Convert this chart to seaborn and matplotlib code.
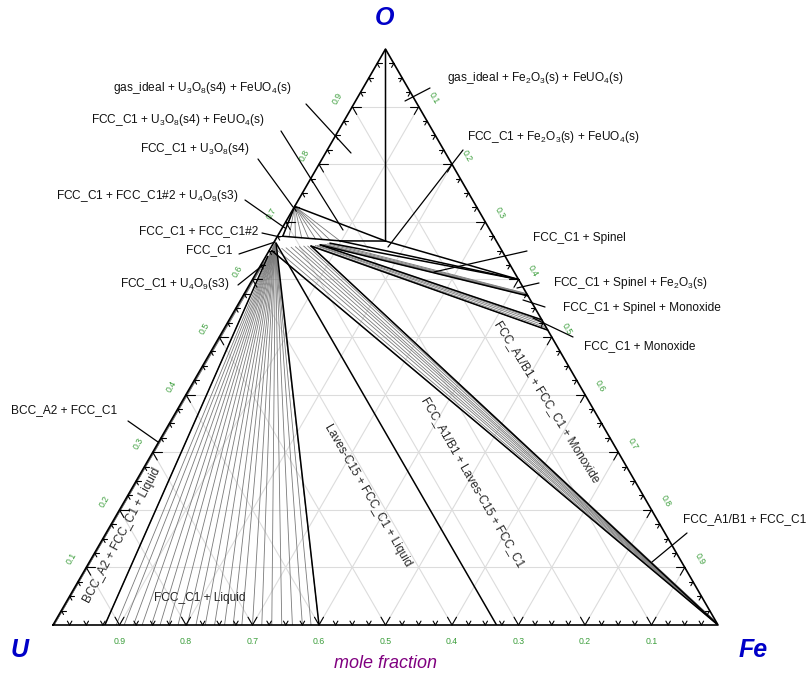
import numpy as np
import pandas as pd
import matplotlib
matplotlib.use("Agg")
import matplotlib.pyplot as plt
import seaborn as sns

# ---------------------------------------------------------------------------
# Phase data, compositions as (x_Fe, x_O) mole fractions
# ---------------------------------------------------------------------------
O_corner = (0.0, 1.0)
Fe_corner = (1.0, 0.0)
U_corner = (0.0, 0.0)
U3O8 = (0.0, 0.727)
FeUO4 = (0.1667, 0.6667)
Fe2O3 = (0.400, 0.600)
UFe2 = (0.667, 0.0)

# FCC_C1 (fluorite) single-phase sliver near UO2
fcc_apex = (0.004, 0.663)
fcc_hyper = (0.008, 0.675)
fcc_fe_rich = (0.098, 0.667)
fcc_fe2o3 = (0.085, 0.663)
fcc_spinel = (0.072, 0.660)
fcc_monox = (0.059, 0.658)

# FCC_C1 + Liquid tie-lines: liquid U fraction on the U-Fe side and FCC_C1 O fraction
liq_xU = [0.922, 0.905, 0.893, 0.879, 0.866, 0.852, 0.839, 0.826, 0.812, 0.798,
          0.785, 0.771, 0.757, 0.742, 0.729, 0.716, 0.700, 0.686, 0.671, 0.656,
          0.640, 0.625, 0.612, 0.600]
liq_fcc_xO = [0.640, 0.650, 0.655, 0.657, 0.658, 0.658, 0.659, 0.659, 0.660, 0.660,
              0.660, 0.661, 0.661, 0.661, 0.662, 0.662, 0.662, 0.662, 0.663, 0.663,
              0.663, 0.663, 0.663, 0.663]

# BCC_A2 + FCC_C1 tie-lines (FCC_C1 end, O fraction; small Fe offsets)
bcc_fcc_xO = [0.590, 0.605, 0.618, 0.630, 0.640]
bcc_fcc_xFe = [0.001, 0.001, 0.002, 0.002, 0.003]

# FCC_C1 + U3O8 tie-lines: FCC_C1 end compositions
u3o8_fcc_xFe = [0.008, 0.018, 0.028, 0.038, 0.049, 0.060, 0.071, 0.083, 0.098]
u3o8_fcc_xO = [0.675, 0.674, 0.673, 0.672, 0.671, 0.670, 0.669, 0.668, 0.667]

# FCC_C1 + Spinel tie-lines: FCC_C1 x_Fe and spinel O fraction
spinel_fcc_xFe = [0.072, 0.075, 0.078, 0.082, 0.085]
spinel_fcc_xO = [0.660, 0.661, 0.661, 0.662, 0.663]
spinel_xO = [0.5714, 0.5725, 0.5735, 0.5745, 0.5755]

# FCC_C1 + Monoxide tie-lines
monox_fcc_xFe = [0.059, 0.062, 0.065, 0.068, 0.070, 0.072]
monox_fcc_xO = [0.658, 0.658, 0.659, 0.659, 0.660, 0.660]
monox_xO = [0.512, 0.516, 0.520, 0.524, 0.527, 0.530]

# FCC_A1/B1 + FCC_C1 tie-lines
fcca1_fcc_xFe = [0.004, 0.010, 0.017, 0.023, 0.030, 0.036, 0.042, 0.048, 0.054, 0.059]
fcca1_fcc_xO = [0.650, 0.652, 0.654, 0.655, 0.656, 0.657, 0.657, 0.658, 0.658, 0.658]
fcca1_xO = [0.0, 0.0005, 0.001, 0.0015, 0.002, 0.0025, 0.003, 0.0035, 0.004, 0.0045]

axis_ticks = [0.1, 0.2, 0.3, 0.4, 0.5, 0.6, 0.7, 0.8, 0.9]

SQ3 = np.sqrt(3) / 2


def cart(xfe, xo):
    return xfe + xo / 2.0, xo * SQ3


# ---------------------------------------------------------------------------
# Build segment table
# ---------------------------------------------------------------------------
rows = []


def seg(p, q, kind):
    sid = len(rows) // 2
    for c in (p, q):
        x, y = cart(*c)
        rows.append({"x": x, "y": y, "seg": sid, "kind": kind})


# tie-lines (gray)
for xu, xo in zip(liq_xU, liq_fcc_xO):
    seg((0.003, xo), (1 - xu, 0.0), "tie")
for xo, xf in zip(bcc_fcc_xO, bcc_fcc_xFe):
    seg((xf, xo), (0.0015, 0.0), "tie")
for xf, xo in zip(u3o8_fcc_xFe, u3o8_fcc_xO):
    seg(U3O8, (xf, xo), "tie")
for xf, xo, so in zip(spinel_fcc_xFe, spinel_fcc_xO, spinel_xO):
    seg((xf, xo), (1 - so, so), "tie")
for xf, xo, mo in zip(monox_fcc_xFe, monox_fcc_xO, monox_xO):
    seg((xf, xo), (1 - mo, mo), "tie")
for xf, xo, fo in zip(fcca1_fcc_xFe, fcca1_fcc_xO, fcca1_xO):
    seg((xf, xo), (1 - fo, fo), "tie")

# phase boundaries (black)
seg(O_corner, FeUO4, "bnd")
seg(U3O8, FeUO4, "bnd")
seg(FeUO4, Fe2O3, "bnd")
seg(fcc_hyper, fcc_fe_rich, "bnd")
seg(fcc_fe_rich, FeUO4, "bnd")
seg(U3O8, fcc_hyper, "bnd")
seg(fcc_fe2o3, Fe2O3, "bnd")
seg(fcc_fe_rich, Fe2O3, "bnd")
seg((spinel_fcc_xFe[0], spinel_fcc_xO[0]), (1 - spinel_xO[0], spinel_xO[0]), "bnd")
seg((monox_fcc_xFe[-1], monox_fcc_xO[-1]), (1 - monox_xO[-1], monox_xO[-1]), "bnd")
seg((monox_fcc_xFe[0], monox_fcc_xO[0]), (1 - monox_xO[0], monox_xO[0]), "bnd")
seg((fcca1_fcc_xFe[-1], fcca1_fcc_xO[-1]), Fe_corner, "bnd")
seg((fcca1_fcc_xFe[0], fcca1_fcc_xO[0]), Fe_corner, "bnd")
seg(fcc_apex, UFe2, "bnd")
seg(fcc_apex, (1 - liq_xU[-1], 0.0), "bnd")
seg((0.003, liq_fcc_xO[0]), (1 - liq_xU[0], 0.0), "bnd")

df = pd.DataFrame(rows)

# ---------------------------------------------------------------------------
# Figure
# ---------------------------------------------------------------------------
sns.set_theme(style="white")
plt.rcParams["font.family"] = ["Liberation Sans", "DejaVu Sans"]
plt.rcParams["mathtext.fontset"] = "custom"
plt.rcParams["mathtext.rm"] = "Liberation Sans"
plt.rcParams["mathtext.it"] = "Liberation Sans:italic"
plt.rcParams["mathtext.default"] = "regular"

W, H = 809, 681
fig = plt.figure(figsize=(W / 100, H / 100), dpi=100)
L0, B0, SIDE = 53, 625, 665
ax = fig.add_axes([L0 / W, (H - B0) / H, SIDE / W, SIDE * SQ3 / H])
ax.set_xlim(0, 1)
ax.set_ylim(0, SQ3)
ax.axis("off")


def px(x, y):
    """image pixel -> axes data coordinates"""
    return (x - L0) / SIDE, (B0 - y) / SIDE


# grid
grid_kw = dict(color="#dcdcdc", lw=0.8, zorder=0)
for v in axis_ticks:
    for a, b in (((0, v), (1 - v, v)), ((v, 0), (v, 1 - v)), ((1 - v, 0), (0, 1 - v))):
        (x1, y1), (x2, y2) = cart(*a), cart(*b)
        ax.plot([x1, x2], [y1, y2], **grid_kw)

# tie-lines and boundaries
sns.lineplot(data=df[df.kind == "tie"], x="x", y="y", units="seg", estimator=None,
             sort=False, color="#7a7a7a", lw=0.6, ax=ax, legend=False, zorder=2)
sns.lineplot(data=df[df.kind == "bnd"], x="x", y="y", units="seg", estimator=None,
             sort=False, color="black", lw=1.1, ax=ax, legend=False, zorder=3)

# triangle frame
tri = np.array([cart(*U_corner), cart(*Fe_corner), cart(*O_corner), cart(*U_corner)])
ax.plot(tri[:, 0], tri[:, 1], color="black", lw=1.2, zorder=4, clip_on=False)

# ticks
d60 = np.array([0.5, SQ3])
d120 = np.array([-0.5, SQ3])
d0 = np.array([1.0, 0.0])
d300 = np.array([0.5, -SQ3])
d180 = np.array([-1.0, 0.0])
d240 = np.array([-0.5, -SQ3])
for k in range(1, 40):
    t = k * 0.025
    ln = (9.0 if k % 4 == 0 else 4.5) / SIDE
    for p, arms in ((cart(t, 0), (d60, d120)),
                    (cart(0, t), (d0, d300)),
                    (cart(1 - t, t), (d180, d240))):
        p = np.array(p)
        for d in arms:
            q = p + d * ln
            ax.plot([p[0], q[0]], [p[1], q[1]], color="black", lw=0.8, zorder=4,
                    clip_on=False)

# tick labels
green = "#3c9e3c"
off = 17 / SIDE
for v in axis_ticks:
    x, y = cart(1 - v, 0)
    ax.text(x, y - off, f"{v:.1f}", color=green, fontsize=6.3, ha="center", va="center")
    x, y = cart(0, v)
    ax.text(x - off * SQ3, y + off * 0.5, f"{v:.1f}", color=green, fontsize=6.3,
            ha="center", va="center", rotation=60)
    x, y = cart(v, 1 - v)
    ax.text(x + off * SQ3, y + off * 0.5, f"{v:.1f}", color=green, fontsize=6.3,
            ha="center", va="center", rotation=-60)

# corner labels
corner_kw = dict(color="#0000c8", fontsize=18, fontweight="bold", fontstyle="italic",
                 ha="center", va="center")
ax.text(*px(385, 18), "O", **corner_kw)
ax.text(*px(20, 650), "U", **corner_kw)
ax.text(*px(753, 650), "Fe", **corner_kw)
ax.text(*px(385, 664), "mole fraction", color="#800080", fontsize=13,
        fontstyle="italic", ha="center", va="center")

# region labels with leaders
fs = 8.6
left_labels = [
    ("gas_ideal + U$_3$O$_8$(s4) + FeUO$_4$(s)", (291, 88), (306, 104), (351, 153)),
    ("FCC_C1 + U$_3$O$_8$(s4) + FeUO$_4$(s)", (265, 120), (281, 131), (343, 230)),
    ("FCC_C1 + U$_3$O$_8$(s4)", (249, 149), (258, 159), (293, 207)),
    ("FCC_C1 + FCC_C1#2 + U$_4$O$_9$(s3)", (238, 196), (245, 200), (285, 228)),
    ("FCC_C1 + FCC_C1#2", (258, 231), (262, 233), (280, 237)),
    ("FCC_C1", (232, 250), (239, 254), (275, 242)),
    ("FCC_C1 + U$_4$O$_9$(s3)", (229, 284), (238, 285), (263, 265)),
    ("BCC_A2 + FCC_C1", (117, 410), (128, 421), (158, 442)),
]
right_labels = [
    ("gas_ideal + Fe$_2$O$_3$(s) + FeUO$_4$(s)", (447, 78), (430, 88), (405, 101)),
    ("FCC_C1 + Fe$_2$O$_3$(s) + FeUO$_4$(s)", (467, 137), (463, 150), (388, 247)),
    ("FCC_C1 + Spinel", (533, 238), (527, 251), (434, 272)),
    ("FCC_C1 + Spinel + Fe$_2$O$_3$(s)", (553, 283), (539, 283), (517, 288)),
    ("FCC_C1 + Spinel + Monoxide", (563, 308), (545, 307), (523, 300)),
    ("FCC_C1 + Monoxide", (584, 346), (573, 337), (533, 318)),
    ("FCC_A1/B1 + FCC_C1", (683, 519), (687, 533), (652, 562)),
]
for side, group in (("right", left_labels), ("left", right_labels)):
    for txt, pos, a, b in group:
        ax.text(*px(*pos), txt, fontsize=fs, ha=side, va="center", color="#111111")
        (x1, y1), (x2, y2) = px(*a), px(*b)
        ax.plot([x1, x2], [y1, y2], color="black", lw=0.9, zorder=5, clip_on=False)

# rotated labels inside regions
ax.text(*px(122, 535), "BCC_A2 + FCC_C1 + Liquid", fontsize=fs, rotation=62,
        ha="center", va="center")
ax.text(*px(200, 598), "FCC_C1 + Liquid", fontsize=fs, ha="center", va="center")
ax.text(*px(368, 495), "Laves-C15 + FCC_C1 + Liquid", fontsize=fs, rotation=-60,
        ha="center", va="center")
ax.text(*px(473, 482), "FCC_A1/B1 + Laves-C15 + FCC_C1", fontsize=fs, rotation=-60,
        ha="center", va="center")
ax.text(*px(547, 402), "FCC_A1/B1 + FCC_C1 + Monoxide", fontsize=fs, rotation=-58,
        ha="center", va="center")

fig.savefig("out.png", dpi=100)
